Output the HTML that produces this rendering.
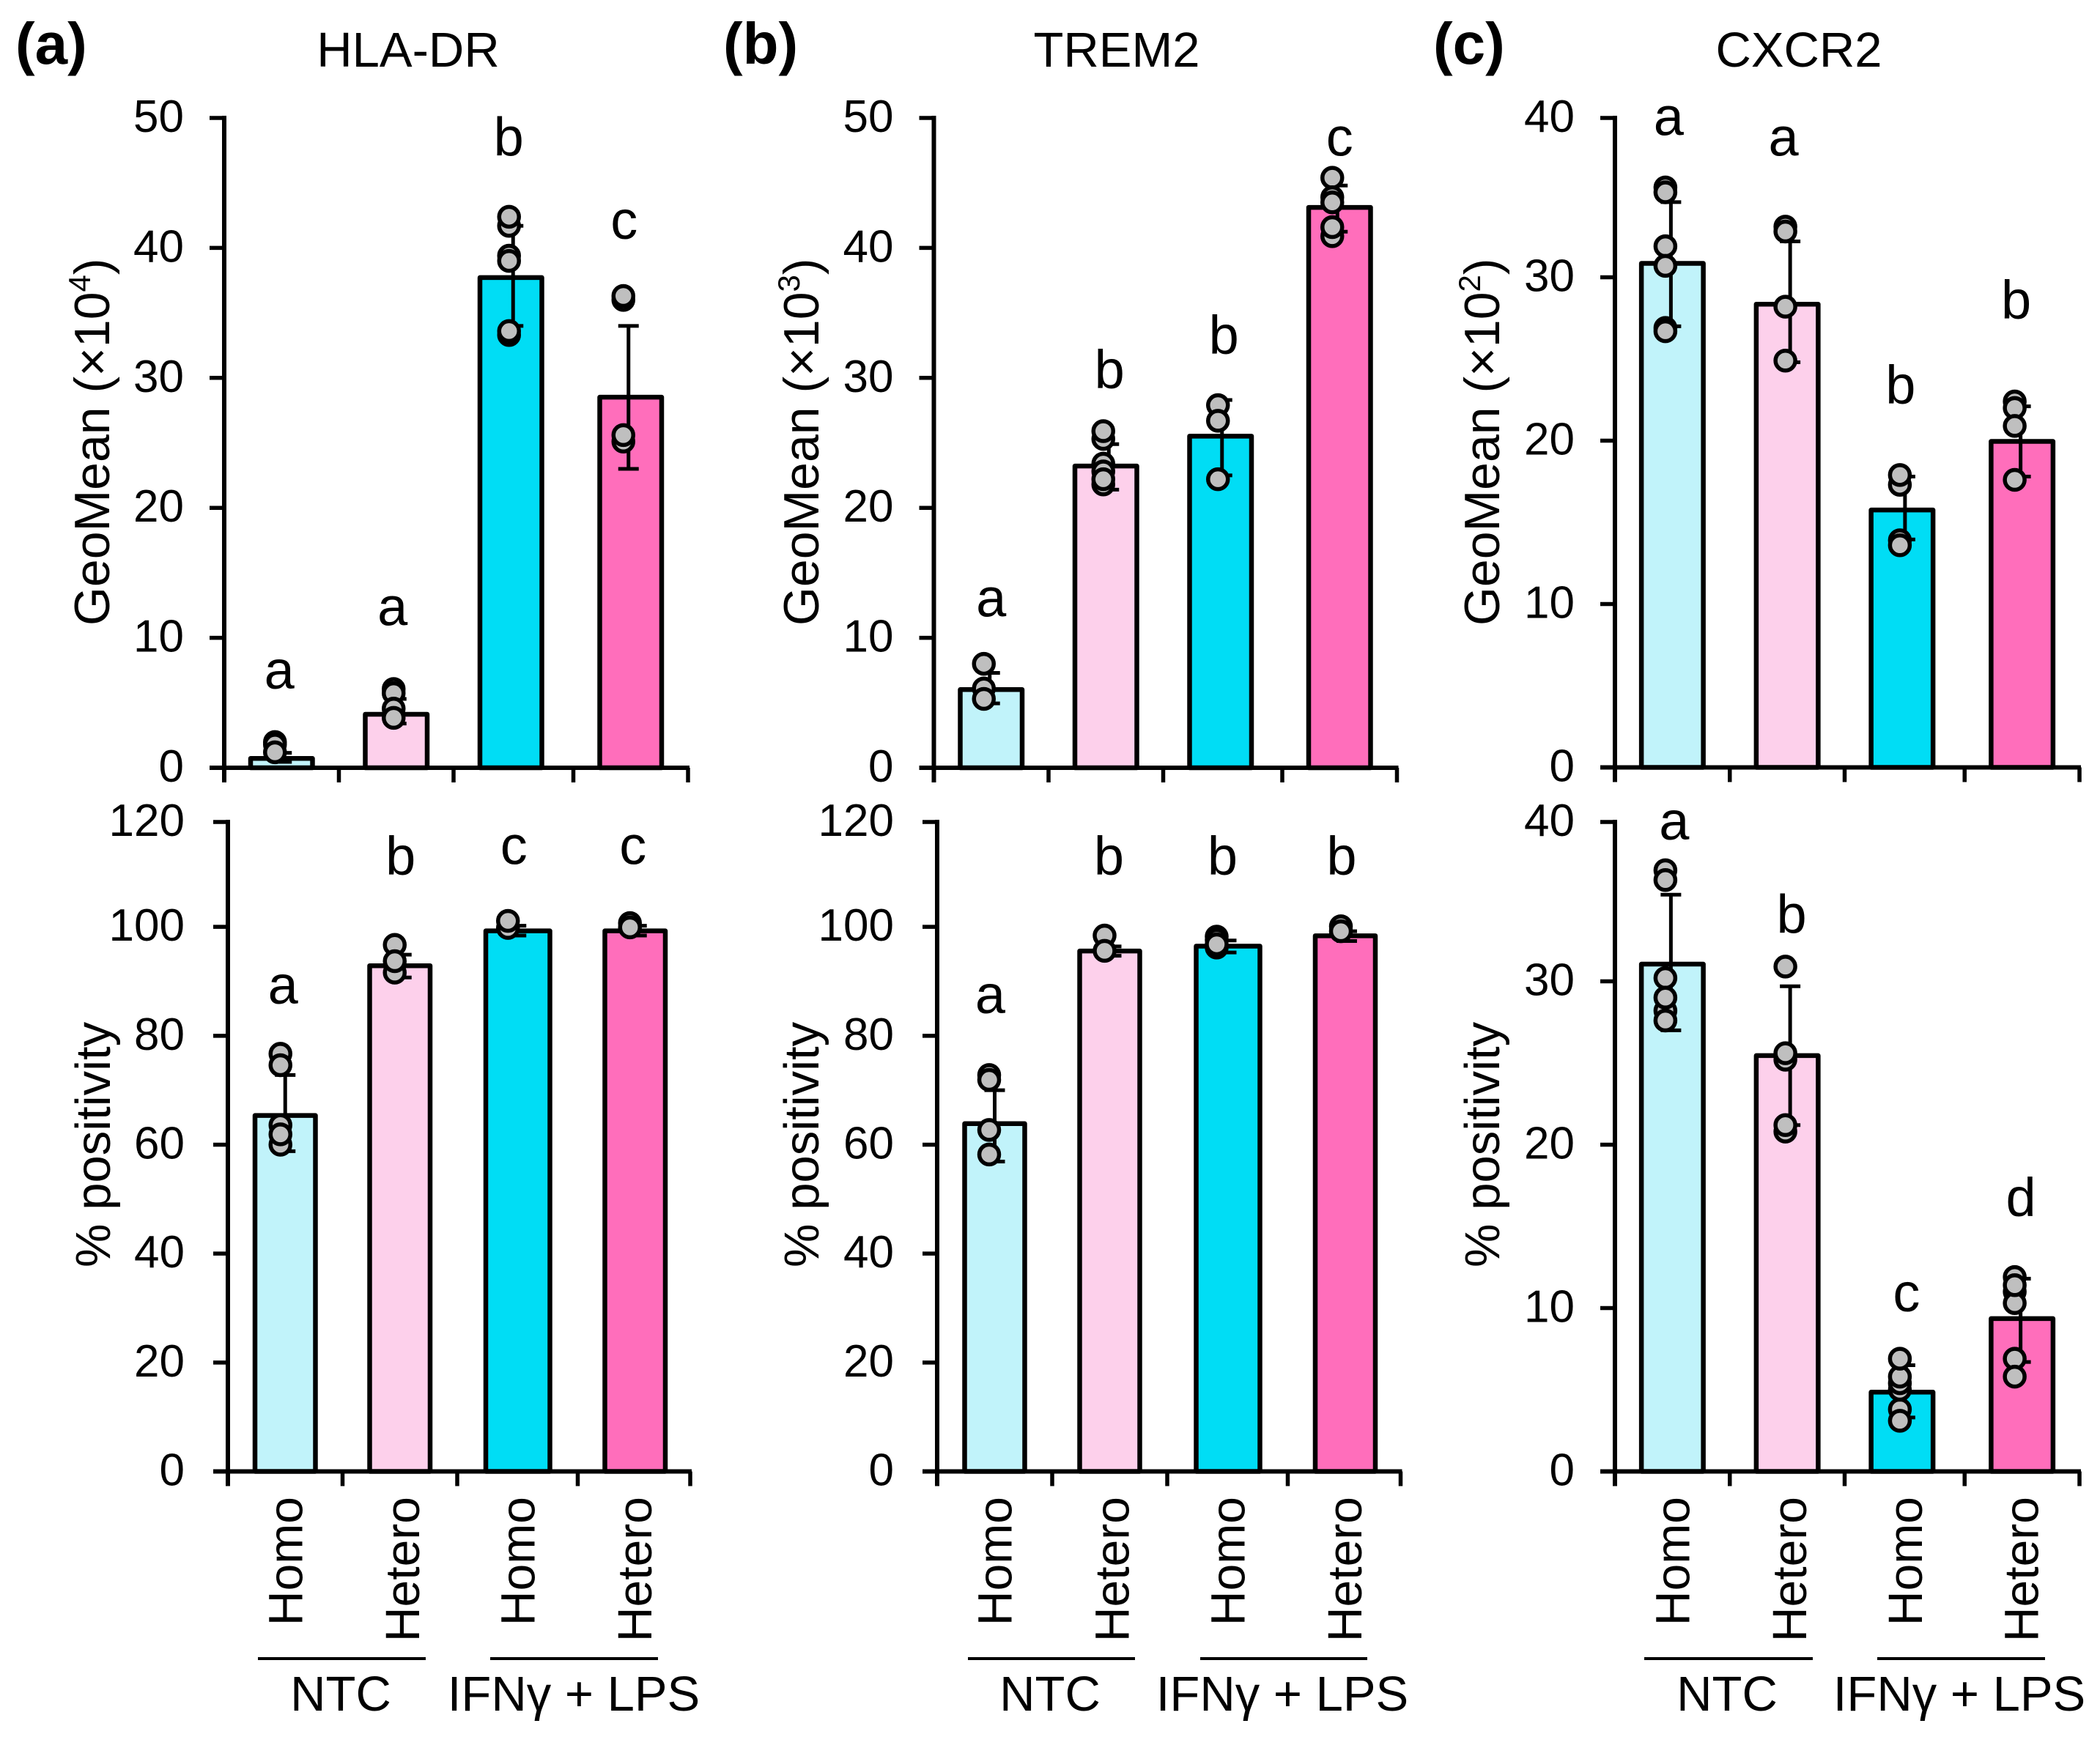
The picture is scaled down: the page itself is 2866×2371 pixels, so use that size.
<!DOCTYPE html>
<html lang="en">
<head>
<meta charset="utf-8">
<title>HLA-DR, TREM2 and CXCR2 expression</title>
<style>
html,body{margin:0;padding:0;background:#fff;width:2866px;height:2371px;overflow:hidden}
svg{display:block}
text{font-family:"Liberation Sans",Arial,sans-serif;fill:#000}
</style>
</head>
<body>
<svg id="figure" xmlns="http://www.w3.org/2000/svg" width="2866" height="2371" viewBox="0 0 2866 2371">
  <rect x="0" y="0" width="2866" height="2371" fill="#fff"/>

  <text x="21" y="87" font-size="80" font-weight="700">(a)</text>
  <text x="987" y="87" font-size="80" font-weight="700">(b)</text>
  <text x="1956" y="87" font-size="80" font-weight="700">(c)</text>

  <text x="557" y="91" font-size="67" text-anchor="middle">HLA-DR</text>
  <text x="1524" y="91" font-size="67" text-anchor="middle">TREM2</text>
  <text x="2455" y="91" font-size="67" text-anchor="middle">CXCR2</text>

  <text transform="translate(149 854) rotate(-90)" font-size="68">GeoMean (×10<tspan font-size="42" dy="-26">4</tspan><tspan dy="26">)</tspan></text>
  <text transform="translate(1117 854) rotate(-90)" font-size="68">GeoMean (×10<tspan font-size="42" dy="-26">3</tspan><tspan dy="26">)</tspan></text>
  <text transform="translate(2046 854) rotate(-90)" font-size="68">GeoMean (×10<tspan font-size="42" dy="-26">2</tspan><tspan dy="26">)</tspan></text>
  <text transform="translate(150 1730) rotate(-90)" font-size="67">% positivity</text>
  <text transform="translate(1117 1730) rotate(-90)" font-size="67">% positivity</text>
  <text transform="translate(2046 1730) rotate(-90)" font-size="67">% positivity</text>

  <line x1="352" x2="581" y1="2264" y2="2264" stroke="#000" stroke-width="4"/>
  <line x1="669" x2="898" y1="2264" y2="2264" stroke="#000" stroke-width="4"/>
  <line x1="1321" x2="1549" y1="2264" y2="2264" stroke="#000" stroke-width="4"/>
  <line x1="1638" x2="1866" y1="2264" y2="2264" stroke="#000" stroke-width="4"/>
  <line x1="2244" x2="2474" y1="2264" y2="2264" stroke="#000" stroke-width="4"/>
  <line x1="2562" x2="2791" y1="2264" y2="2264" stroke="#000" stroke-width="4"/>

  <text x="465" y="2335" font-size="67" text-anchor="middle">NTC</text>
  <text x="783" y="2335" font-size="67" text-anchor="middle">IFNγ + LPS</text>
  <text x="1433" y="2335" font-size="67" text-anchor="middle">NTC</text>
  <text x="1750" y="2335" font-size="67" text-anchor="middle">IFNγ + LPS</text>
  <text x="2357" y="2335" font-size="67" text-anchor="middle">NTC</text>
  <text x="2674" y="2335" font-size="67" text-anchor="middle">IFNγ + LPS</text>

  <g id="panels"></g>
</svg>

<script>
// ---------- data ----------
const categories = ['Homo', 'Hetero', 'Homo', 'Hetero'];
const barColors = ['#c1f3fa', '#fdd0eb', '#00ddf5', '#ff6ebb'];

const geoTicks50 = [0, 10, 20, 30, 40, 50];
const geoTicks40 = [0, 10, 20, 30, 40];
const pctTicks120 = [0, 20, 40, 60, 80, 100, 120];

const hlaGeoMeans = [0.9, 4.3, 37.9, 28.7];
const hlaGeoUpper = [1.15, 5.3, 41.7, 34.0];
const hlaGeoLower = [0.45, 3.4, 34.0, 23.0];
const hlaGeoDots = [[1.98, 1.78, 1.19], [6.06, 5.74, 4.55, 3.84], [41.7, 42.4, 39.4, 39.0, 33.3, 33.6], [36.0, 36.3, 25.1, 25.6]];
const hlaGeoLetters = ['a', 'a', 'b', 'c'];
const hlaGeoLetterAt = [6.1, 10.96, 47.1, 40.7];

const tremGeoMeans = [6.2, 23.4, 25.7, 43.3];
const tremGeoUpper = [7.3, 24.9, 28.3, 44.8];
const tremGeoLower = [4.95, 21.4, 22.5, 41.25];
const tremGeoDots = [[8.0, 6.1, 5.3], [25.3, 25.9, 23.4, 22.8, 21.8, 22.2], [27.9, 26.7, 22.2], [45.4, 43.9, 43.5, 40.9, 41.6]];
const tremGeoLetters = ['a', 'b', 'b', 'c'];
const tremGeoLetterAt = [11.63, 29.2, 31.86, 47.1];

const cxcrGeoMeans = [31.0, 28.5, 15.9, 20.1];
const cxcrGeoUpper = [34.6, 32.2, 17.8, 22.1];
const cxcrGeoLower = [27.0, 24.8, 13.95, 17.8];
const cxcrGeoDots = [[35.5, 35.2, 31.9, 30.7, 26.9, 26.7], [33.1, 32.8, 28.2, 24.9], [17.3, 17.9, 13.9, 13.6], [22.4, 22.0, 20.9, 17.6]];
const cxcrGeoLetters = ['a', 'a', 'b', 'b'];
const cxcrGeoLetterAt = [38.7, 37.44, 22.26, 27.47];

const hlaPctMeans = [65.8, 93.3, 99.7, 99.7];
const hlaPctUpper = [72.8, 94.9, 100.2, 100.2];
const hlaPctLower = [58.8, 90.7, 98.4, 98.4];
const hlaPctDots = [[76.7, 74.6, 63.6, 60.0, 61.9], [96.7, 91.6, 93.7], [99.8, 101.1], [100.7, 99.9]];
const hlaPctLetters = ['a', 'b', 'c', 'c'];
const hlaPctLetterAt = [85.9, 109.6, 111.5, 111.5];

const tremPctMeans = [64.3, 96.0, 96.9, 98.8];
const tremPctUpper = [70.0, 96.4, 97.5, 99.2];
const tremPctLower = [56.9, 94.7, 95.3, 97.4];
const tremPctDots = [[72.8, 71.9, 62.7, 58.2], [98.4, 95.6], [98.2, 97.6, 96.2, 96.8], [100.1, 99.2]];
const tremPctLetters = ['a', 'b', 'b', 'b'];
const tremPctLetterAt = [84.15, 109.6, 109.6, 109.6];

const cxcrPctMeans = [31.2, 25.6, 5.0, 9.5];
const cxcrPctUpper = [35.3, 29.7, 6.5, 11.8];
const cxcrPctLower = [27.0, 21.2, 3.3, 6.7];
const cxcrPctDots = [[36.8, 36.2, 30.2, 28.2, 29.0, 27.6], [30.9, 25.2, 25.6, 20.8, 21.2], [3.8, 5.0, 5.4, 5.8, 6.9, 3.1], [11.0, 10.3, 11.9, 11.4, 6.9, 5.8]];
const cxcrPctLetters = ['a', 'b', 'c', 'd'];
const cxcrPctLetterAt = [38.68, 32.96, 9.8, 15.63];

// ---------- panel layout (geometry only) ----------
const TOP = { yTop: 161, y0: 1048, axisTop: 161 };
const TOP40 = { yTop: 155.5, y0: 1047.5, axisTop: 161 };
const BOTTOM = { yTop: 1116.5, y0: 2008.5, axisTop: 1122 };

const panelDefs = [
  { id: 'hla-geomean', row: TOP, axisX: 306, step: 156.5, gap: 7, lastPull: 0, barW: 91, labelGap: 55, letterDx: [-3, -5, -3, -9], dotDx: [-9, -3.5, -2.5, -10], errDx: [0, 0, 3, -3], yMax: 50, ticks: geoTicks50, means: hlaGeoMeans, upper: hlaGeoUpper, lower: hlaGeoLower, dots: hlaGeoDots, letters: hlaGeoLetters, letterAt: hlaGeoLetterAt },
  { id: 'trem2-geomean', row: TOP, axisX: 1274.5, step: 156.5, gap: 6, lastPull: 0, barW: 91, labelGap: 55, letterDx: [0, 5, 4.5, 0], dotDx: [-10, -3.5, -3.5, -10], errDx: [-2, 4, 2, -3], yMax: 50, ticks: geoTicks50, means: tremGeoMeans, upper: tremGeoUpper, lower: tremGeoLower, dots: tremGeoDots, letters: tremGeoLetters, letterAt: tremGeoLetterAt },
  { id: 'cxcr2-geomean', row: TOP40, axisX: 2204, step: 156.75, gap: 7, lastPull: 0, barW: 91, labelGap: 55, letterDx: [-5, -5, -2, -8], dotDx: [-9.5, -2.5, -3, -10], errDx: [-2, 4, 4, -2], yMax: 40, ticks: geoTicks40, means: cxcrGeoMeans, upper: cxcrGeoUpper, lower: cxcrGeoLower, dots: cxcrGeoDots, letters: cxcrGeoLetters, letterAt: cxcrGeoLetterAt },
  { id: 'hla-positivity', row: BOTTOM, axisX: 311, step: 156.5, gap: 8, lastPull: 3, barW: 89, labelGap: 59, letterDx: [-3, 1, -1, -3], dotDx: [-6.5, -7, -9, -7], errDx: [0, 2, 2, 2], yMax: 120, ticks: pctTicks120, means: hlaPctMeans, upper: hlaPctUpper, lower: hlaPctLower, dots: hlaPctDots, letters: hlaPctLetters, letterAt: hlaPctLetterAt, widen: [2, 7] },
  { id: 'trem2-positivity', row: BOTTOM, axisX: 1279, step: 157, gap: 7.5, lastPull: 3, barW: 88.5, labelGap: 59, letterDx: [-6, -1, -3, -5], dotDx: [-7.5, -7, -11, -6], errDx: [0, 2, 2, 2], yMax: 120, ticks: pctTicks120, means: tremPctMeans, upper: tremPctUpper, lower: tremPctLower, dots: tremPctDots, letters: tremPctLetters, letterAt: tremPctLetterAt, widen: [2, 7] },
  { id: 'cxcr2-positivity', row: BOTTOM, axisX: 2204, step: 156.75, gap: 7, lastPull: 0, barW: 91, labelGap: 55, letterDx: [2.5, 6, 6, -1.5], dotDx: [-9.5, -2.5, -3, -10], errDx: [-2, 4, 4, -2], yMax: 40, ticks: geoTicks40, means: cxcrPctMeans, upper: cxcrPctUpper, lower: cxcrPctLower, dots: cxcrPctDots, letters: cxcrPctLetters, letterAt: cxcrPctLetterAt }
];

const catLabelNudge = [23, 26, 27, 22];
const root = document.getElementById('panels');
const NS = 'http://www.w3.org/2000/svg';

function mk(parent, tag, props, txt) {
  const el = document.createElementNS(NS, tag);
  for (const k in props) el.setAttribute(k, props[k]);
  if (txt !== undefined) el.textContent = txt;
  parent.appendChild(el);
  return el;
}

function tickX(p, i) { return p.axisX + p.step * i + (i >= 3 ? p.gap : 0) - (i === 4 ? p.lastPull : 0); }
function barX(p, i) { return p.axisX + p.step * (i + 0.5) + (i >= 3 ? p.gap : 0); }
function yScale(p, v) { return p.row.y0 - (v / p.yMax) * (p.row.y0 - p.row.yTop); }

panelDefs.forEach(function (p) {
  const g = mk(root, 'g', {});
  
  

  // bars
  p.means.forEach(function (v, i) {
    const cx = barX(p, i);
    let left = cx - p.barW / 2;
    let right = cx + p.barW / 2;
    if (p.widen && i === 2) { left += p.widen[0]; right += p.widen[1]; }
    const top = yScale(p, v);
    const bar = mk(g, 'rect', { x: left + 3.25, y: top + 3.25, width: right - left - 6.5, height: Math.max(p.row.y0 - top - 3.25, 0), fill: barColors[i], stroke: '#000', 'stroke-width': 6.5, 'stroke-linejoin': 'round' });
    
    
  });

  // error bars
  p.means.forEach(function (v, i) {
    const ex = barX(p, i) + p.errDx[i];
    const yu = yScale(p, p.upper[i]);
    const yl = yScale(p, p.lower[i]);
    const stem = mk(g, 'line', { x1: ex, x2: ex, y1: yu, y2: yl, stroke: '#000', 'stroke-width': 5 });
    
    
    const capU = mk(g, 'line', { x1: ex - 14, x2: ex + 14, y1: yu, y2: yu, stroke: '#000', 'stroke-width': 5 });
    
    
    const capL = mk(g, 'line', { x1: ex - 14, x2: ex + 14, y1: yl, y2: yl, stroke: '#000', 'stroke-width': 5 });
    
    
  });

  // axes
  const yAxis = mk(g, 'line', { x1: p.axisX, x2: p.axisX, y1: p.row.axisTop - 3, y2: p.row.y0 + 20, stroke: '#000', 'stroke-width': 6 });
  
  
  const xAxis = mk(g, 'line', { x1: p.axisX - 20, x2: tickX(p, 4) + 2, y1: p.row.y0, y2: p.row.y0, stroke: '#000', 'stroke-width': 6 });
  
  

  p.ticks.forEach(function (t) {
    const y = Math.max(yScale(p, t), p.row.axisTop);
    const tick = mk(g, 'line', { x1: p.axisX - 20, x2: p.axisX, y1: y, y2: y, stroke: '#000', 'stroke-width': 5.5 });
    
    
    const label = mk(g, 'text', { x: p.axisX - p.labelGap, y: y + 19, 'font-size': 62, 'text-anchor': 'end' }, String(t));
    
    
  });

  [1, 2, 3, 4].forEach(function (i) {
    const tx = tickX(p, i);
    const tick = mk(g, 'line', { x1: tx, x2: tx, y1: p.row.y0, y2: p.row.y0 + 20, stroke: '#000', 'stroke-width': 5.5 });
    
    
  });

  // replicate points
  p.dots.forEach(function (series, i) {
    const dx = barX(p, i) + p.dotDx[i];
    series.forEach(function (v) {
      const dot = mk(g, 'circle', { cx: dx, cy: yScale(p, v), r: 13.5, fill: '#bfbfbf', stroke: '#000', 'stroke-width': 5.5 });
      
      
    });
  });

  // significance letters
  p.letters.forEach(function (s, i) {
    const t = mk(g, 'text', { x: barX(p, i) + p.letterDx[i], y: yScale(p, p.letterAt[i]), 'font-size': 74, 'text-anchor': 'middle' }, s);
    
    
  });

  // category labels (bottom row only)
  if (p.row === BOTTOM) {
    categories.forEach(function (c, i) {
      const x = barX(p, i) + catLabelNudge[i];
      const t = mk(g, 'text', { transform: 'translate(' + x + ' 2043) rotate(-90)', 'font-size': 66, 'text-anchor': 'end' }, c);
      
      
    });
  }
});
</script>
</body>
</html>
